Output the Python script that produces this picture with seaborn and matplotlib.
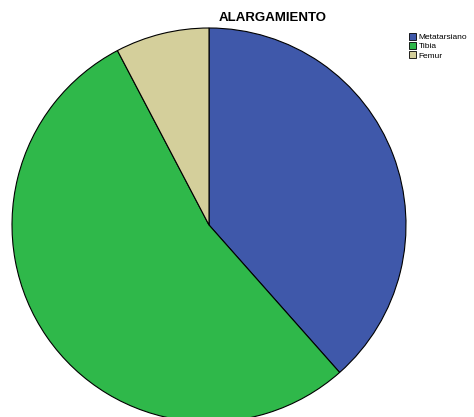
import matplotlib
matplotlib.use("Agg")
import matplotlib.pyplot as plt
import seaborn as sns
from matplotlib.patches import Patch

categorias = ["Metatarsiano", "Tibia", "Femur"]
valores = [5, 7, 1]
colores = ["#3f58aa", "#2fb84a", "#d4cf9b"]

sns.set_theme(style="white")
plt.rcParams['font.family'] = ['Liberation Sans', 'DejaVu Sans']
plt.rcParams['text.color'] = 'black'

W, H = 474, 417
fig = plt.figure(figsize=(W / 100, H / 100), dpi=100)

cx, cy, r = 209, 225, 197
ax = fig.add_axes([(cx - r) / W, (H - cy - r) / H, 2 * r / W, 2 * r / H])
ax.pie(valores, colors=colores, startangle=90, counterclock=False,
       radius=1, wedgeprops=dict(edgecolor="black", linewidth=0.8))
ax.set_xlim(-1, 1)
ax.set_ylim(-1, 1)
ax.set_aspect("auto")
ax.axis("off")

fig.text(273 / W, 1 - 18 / H, "ALARGAMIENTO", ha="center", va="center",
         fontsize=9.5, fontweight="bold", color="black")

handles = [Patch(facecolor=c, edgecolor="black", linewidth=0.6) for c in colores]
fig.legend(handles, categorias, loc="upper left", bbox_to_anchor=(403 / W, 1 - 27 / H),
           frameon=False, fontsize=6, handlelength=0.9, handleheight=0.9,
           handletextpad=0.3, labelspacing=0.1, borderpad=0.2, labelcolor="black")

fig.savefig("out.png", dpi=100)
